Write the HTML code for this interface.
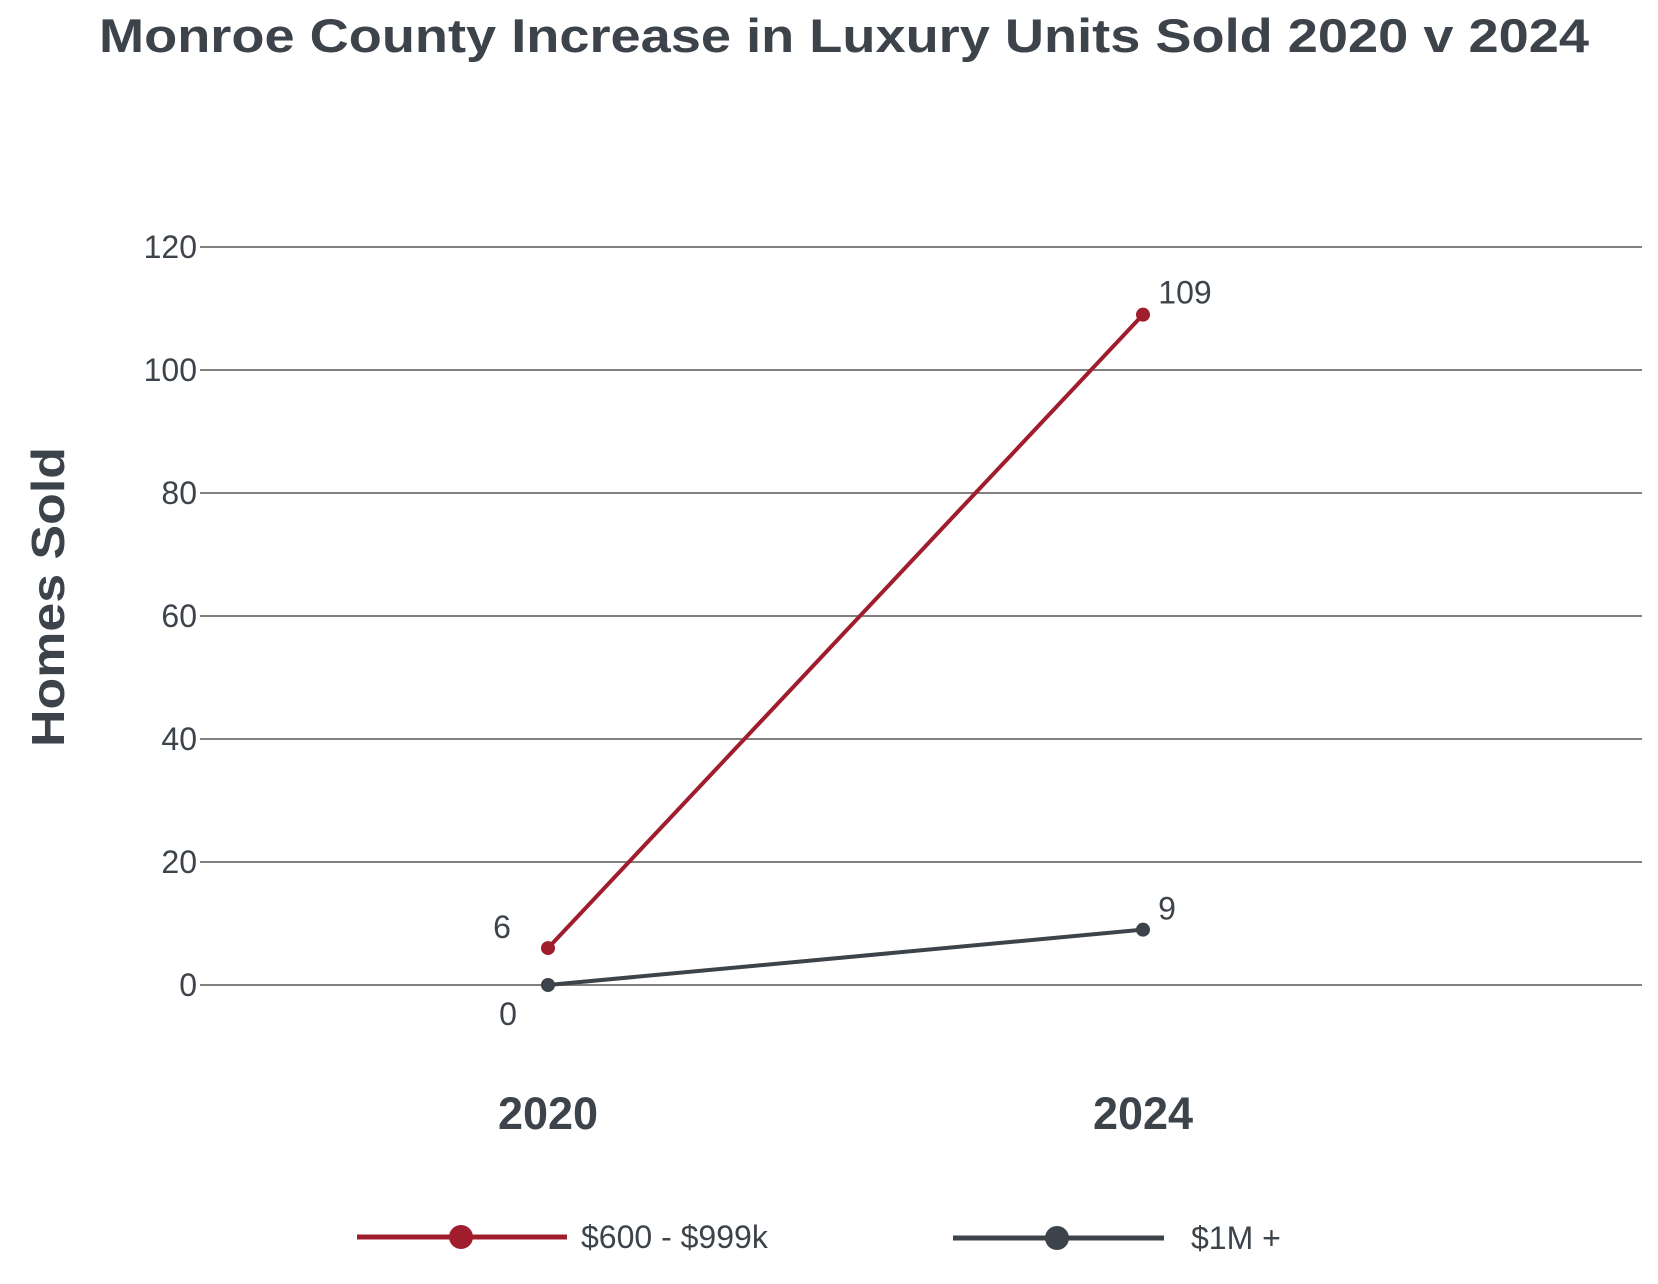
<!DOCTYPE html>
<html><head><meta charset="utf-8"><style>
html,body{margin:0;padding:0;background:#fff;}
svg{display:block;font-family:"Liberation Sans",sans-serif;}
</style></head><body>
<svg id="chart" width="1658" height="1284" viewBox="0 0 1658 1284">
<text x="844" y="52" text-anchor="middle" font-size="47" font-weight="bold" fill="#3d434a" textLength="1490" lengthAdjust="spacingAndGlyphs">Monroe County Increase in Luxury Units Sold 2020 v 2024</text>
<text transform="translate(64,597) rotate(-90)" text-anchor="middle" font-size="46" font-weight="bold" fill="#3d434a" textLength="300" lengthAdjust="spacingAndGlyphs">Homes Sold</text>
<g id="grid"></g><g id="series"></g>
<g>
<g>
<line x1="357" y1="1237" x2="567" y2="1237" stroke="#a01d2e" stroke-width="5"/>
<circle cx="461" cy="1237" r="12" fill="#a01d2e"/>
<text x="581" y="1248" font-size="32" fill="#3d434a">$600 - $999k</text></g>
<g>
<line x1="953" y1="1238" x2="1164" y2="1238" stroke="#3d434a" stroke-width="5"/>
<circle cx="1057" cy="1238" r="12" fill="#3d434a"/>
<text x="1191" y="1249" font-size="32" fill="#3d434a">$1M +</text></g>
</g>
</svg>
<script>
const categories=["2020","2024"];
const seriesA=[6,109];
const seriesB=[0,9];
const yTicks=[0,20,40,60,80,100,120];
const NS="http://www.w3.org/2000/svg";
const y0=985,y120=247,xl=200,xr=1642;
function yS(v){return y0-(y0-y120)*v/120;}
function xS(i){return 548+i*(1143-548);}
function mk(t,a,p,txt){const e=document.createElementNS(NS,t);for(const k in a)e.setAttribute(k,a[k]);if(txt!==undefined)e.textContent=txt;p.appendChild(e);return e;}
const g=document.getElementById('grid');
yTicks.forEach(v=>{
 const l=mk('line',{x1:xl,x2:xr,y1:yS(v),y2:yS(v),stroke:'#808080','stroke-width':2},g);
 
 
 const t=mk('text',{x:197,y:yS(v)+11,'text-anchor':'end','font-size':32,fill:'#3d434a'},g,String(v));
 
 
});
categories.forEach((c,i)=>{
 const t=mk('text',{x:xS(i),y:1129,'text-anchor':'middle','font-size':45,'font-weight':'bold',fill:'#3d434a'},g,c);
 
 
});
const s=document.getElementById('series');
function draw(vals,color,name,offs){
 const pl=mk('polyline',{points:vals.map((v,i)=>xS(i)+','+yS(v)).join(' '),fill:'none',stroke:color,'stroke-width':4},s);
 
 
 vals.forEach((v,i)=>{
  const c=mk('circle',{cx:xS(i),cy:yS(v),r:7,fill:color},s);
  
  
  const t=mk('text',{x:xS(i)+offs[i][0],y:yS(v)+offs[i][1],'text-anchor':'middle','font-size':32,fill:'#3d434a'},s,String(v));
  
  
 });
}
draw(seriesA,'#a01d2e','series-600-999k',[[-46,-10],[42,-11]]);
draw(seriesB,'#3d434a','series-1m-plus',[[-40,40],[24,-10]]);
</script>
</body></html>
